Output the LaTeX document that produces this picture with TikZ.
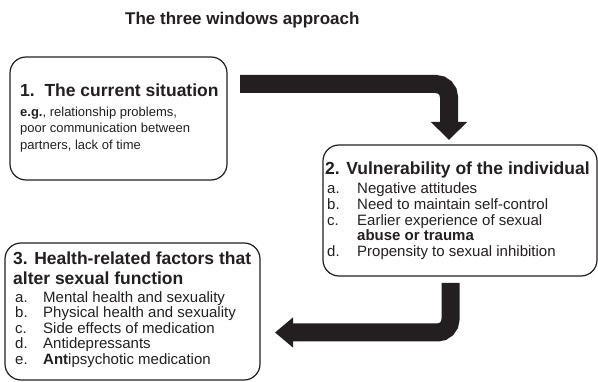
\documentclass[tikz,border=0pt]{standalone}
\usepackage{fontspec}
\setmainfont{Liberation Sans}
\usetikzlibrary{arrows.meta}
\definecolor{ink}{RGB}{35,31,32}
\tikzset{
	win/.style={draw=ink, line width=1.2pt, rounded corners=16pt, inner sep=0pt},
	head/.style={font=\fontsize{17.5}{20}\selectfont\bfseries, text=ink, inner sep=0pt, anchor=base west},
	txt/.style={font=\fontsize{15}{17}\selectfont, text=ink, inner sep=0pt, anchor=base west},
	small/.style={font=\fontsize{13}{15}\selectfont, text=ink, inner sep=0pt, anchor=base west},
	bigarrow/.style={draw=ink, line width=18pt, rounded corners=13pt},
}
\begin{document}
\begin{tikzpicture}[x=1pt, y=-1pt]
		\useasboundingbox (0,0) rectangle (598,382);
		\node[font=\fontsize{17}{20}\selectfont\bfseries, text=ink, inner sep=0pt, anchor=base west] (title) at (125,25) {The three windows approach};
		
		% the three windows
		\node[win, minimum width=217pt, minimum height=123pt] (w1) at (118.5,118.5) {};
		\node[win, minimum width=274pt, minimum height=131pt] (w2) at (460,210.5) {};
		\node[win, minimum width=255pt, minimum height=137pt] (w3) at (132.5,311.5) {};
		
		% window 1
		\node[head] (c0) at (20,97) {1.\ \ The current situation};
		\node[small] (c1) at (20,117) {\textbf{e.g.}, relationship problems,};
		\node[small] (c2) at (20,133) {poor communication between};
		\node[small] (c3) at (20,150) {partners, lack of time};
		
		% window 2
		\node[head] (v0) at (325,175) {2. Vulnerability of the individual};
		\foreach \l/\t/\y [count=\i] in {a./Negative attitudes/194, b./Need to maintain self-control/210, c./Earlier experience of sexual/226, d./Propensity to sexual inhibition/257}{
			\node[txt] (vl\i) at (327,\y) {\l};
			\node[txt] (v\i) at (357,\y) {\t};
		}
		\node[txt] (v5) at (357,241) {\textbf{abuse or trauma}};
		
		% window 3
		\node[head] (h0) at (13,265) {3. Health-related factors that};
		\node[head] (h00) at (13,285) {alter sexual function};
		\foreach \l/\t/\y [count=\i] in {a./Mental health and sexuality/302.5, b./Physical health and sexuality/318, c./Side effects of medication/333.5, d./Antidepressants/349, e./\textbf{Ant}ipsychotic medication/364.5}{
			\node[txt] (hl\i) at (15,\y) {\l};
			\node[txt] (h\i) at (43,\y) {\t};
		}
		
		\coordinate (s1) at (240,84);
		\coordinate (e1) at (449,140);
		\coordinate (s2) at (450.5,283);
		\coordinate (e2) at (275,332.5);
		\draw[bigarrow, -{Triangle[width=35pt,length=18pt]}] (s1) -| (e1);
		\draw[bigarrow, -{Triangle[width=29pt,length=18pt]}] (s2) |- (e2);
	\end{tikzpicture}
\end{document}
